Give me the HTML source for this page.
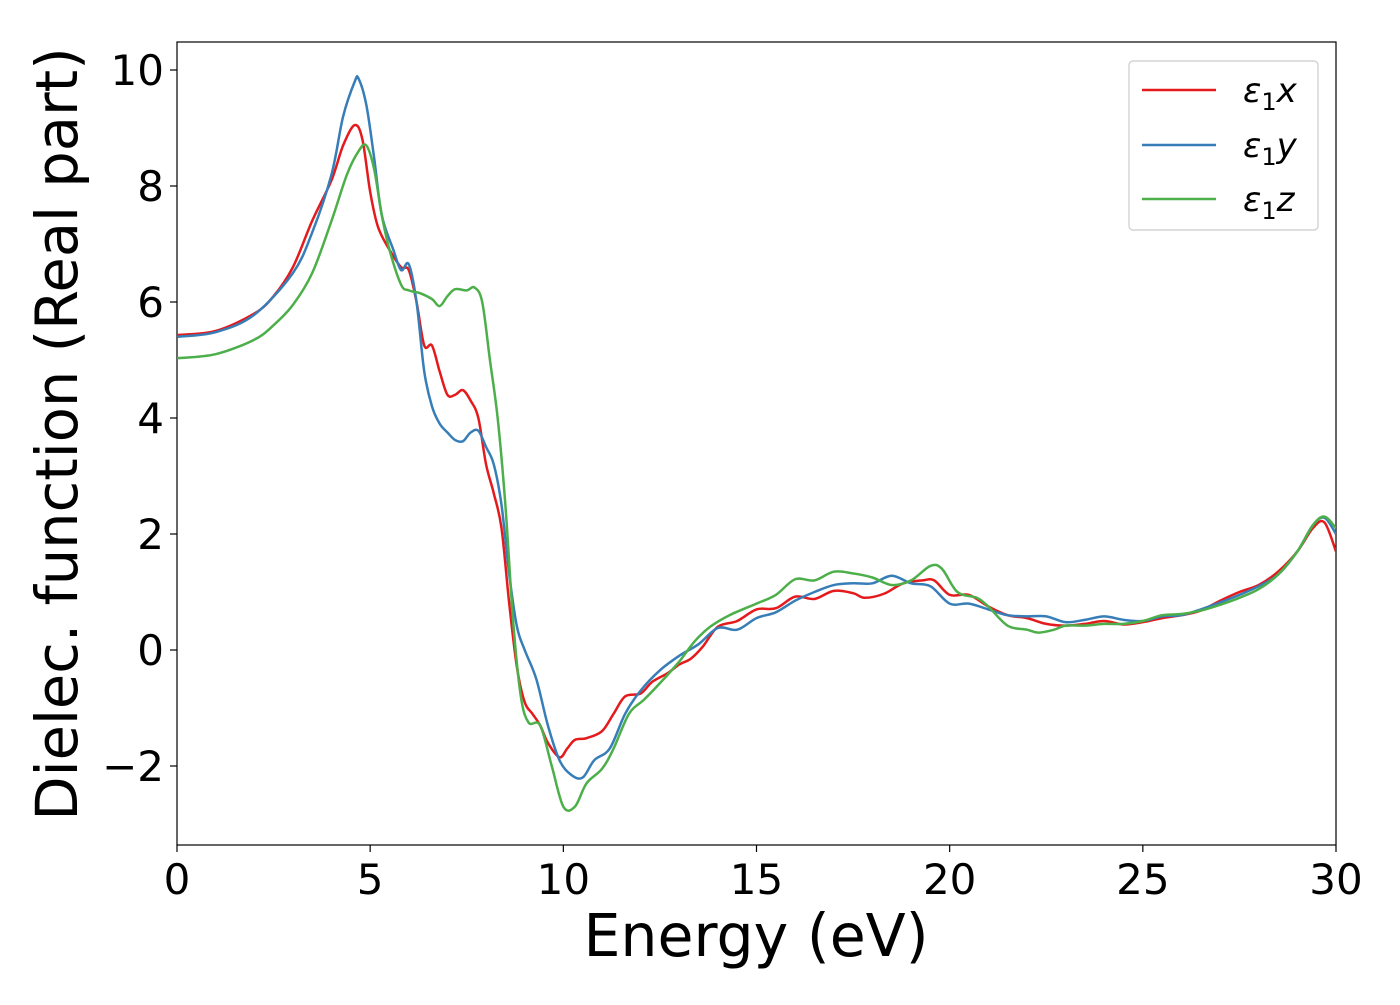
<!DOCTYPE html>
<html><head><meta charset="utf-8"><style>
html,body{margin:0;padding:0;background:#fff;}
svg text{font-family:"DejaVu Sans","Liberation Sans",sans-serif;fill:#000;}
</style></head><body>
<svg id="chart" width="1400" height="1000" xmlns="http://www.w3.org/2000/svg">
<rect x="177" y="42" width="1159" height="803" fill="none" stroke="#000" stroke-width="1.2"/>
<g id="ticks"></g>
<g id="series"></g>
<text x="756" y="956" font-size="58.5" text-anchor="middle">Energy (eV)</text>
<text transform="translate(77,434) rotate(-90)" font-size="57.5" text-anchor="middle">Dielec. function (Real part)</text>
<g>
<rect x="1129" y="61" width="189" height="169" rx="4" fill="#fff" stroke="#ccc" stroke-width="1.2"/>
<line x1="1142" y1="90" x2="1216" y2="90" stroke="#e41a1c" stroke-width="2.5"/>
<text x="1243" y="102" font-size="34" font-style="italic">ε<tspan font-style="normal" font-size="24" dy="8">1</tspan><tspan dy="-8">x</tspan></text>
<line x1="1142" y1="145" x2="1216" y2="145" stroke="#377eb8" stroke-width="2.5"/>
<text x="1243" y="157" font-size="34" font-style="italic">ε<tspan font-style="normal" font-size="24" dy="8">1</tspan><tspan dy="-8">y</tspan></text>
<line x1="1142" y1="199" x2="1216" y2="199" stroke="#4daf4a" stroke-width="2.5"/>
<text x="1243" y="211" font-size="34" font-style="italic">ε<tspan font-style="normal" font-size="24" dy="8">1</tspan><tspan dy="-8">z</tspan></text>
</g>
</svg>
<script>
const xTicks=[0,5,10,15,20,25,30];
const yTicks=[-2,0,2,4,6,8,10];
const yTickLabels=["\u22122","0","2","4","6","8","10"];
const exE=[0,1,2,2.5,3,3.5,4,4.3,4.6,4.8,5,5.2,5.5,5.8,6,6.2,6.4,6.6,6.8,7,7.2,7.4,7.6,7.8,8,8.2,8.4,8.6,8.8,9,9.2,9.4,9.6,9.9,10.1,10.3,10.6,11,11.3,11.6,12,12.3,12.7,13,13.3,13.6,14,14.5,15,15.5,16,16.5,17,17.5,17.8,18.3,18.8,19.3,19.6,20,20.5,21,21.5,22,22.5,23,23.5,24,24.5,25,25.5,26,26.5,27,27.5,28,28.5,29,29.4,29.7,30];
const exV=[5.43,5.5,5.8,6.1,6.6,7.4,8.1,8.7,9.05,8.8,7.9,7.3,6.9,6.6,6.55,6.0,5.25,5.25,4.8,4.4,4.4,4.48,4.3,4.0,3.2,2.7,2.1,0.8,-0.3,-0.9,-1.1,-1.3,-1.6,-1.85,-1.7,-1.55,-1.52,-1.4,-1.1,-0.8,-0.75,-0.55,-0.4,-0.25,-0.15,0.05,0.4,0.5,0.7,0.72,0.92,0.88,1.02,0.98,0.9,0.97,1.15,1.2,1.2,0.95,0.95,0.75,0.6,0.55,0.45,0.42,0.45,0.5,0.44,0.48,0.55,0.6,0.68,0.85,1.0,1.12,1.35,1.7,2.1,2.2,1.7];
const eyE=[0,1,2,3,3.5,4,4.3,4.6,4.7,4.9,5.1,5.3,5.6,5.8,6,6.2,6.4,6.6,6.8,7,7.2,7.4,7.6,7.8,8,8.2,8.4,8.6,8.8,9,9.3,9.6,9.9,10.2,10.5,10.8,11.2,11.6,12,12.5,13,13.5,14,14.5,15,15.5,16,16.5,17,17.5,18,18.5,19,19.5,20,20.5,21,21.5,22,22.5,23,23.5,24,24.5,25,25.5,26,26.5,27,27.5,28,28.5,29,29.4,29.7,30];
const eyV=[5.4,5.48,5.78,6.5,7.2,8.2,9.2,9.8,9.85,9.4,8.5,7.5,6.9,6.55,6.65,6.0,4.8,4.2,3.9,3.75,3.62,3.6,3.75,3.78,3.5,3.2,2.5,1.3,0.4,0.0,-0.5,-1.3,-1.9,-2.15,-2.2,-1.9,-1.7,-1.1,-0.7,-0.35,-0.1,0.1,0.38,0.35,0.55,0.65,0.85,1.0,1.12,1.15,1.15,1.28,1.15,1.1,0.8,0.8,0.7,0.6,0.58,0.58,0.48,0.52,0.58,0.52,0.5,0.58,0.6,0.7,0.82,0.95,1.1,1.3,1.7,2.15,2.28,2.0];
const ezE=[0,1,2,2.5,3,3.5,4,4.4,4.7,4.9,5.1,5.3,5.5,5.8,6,6.3,6.6,6.8,7,7.2,7.5,7.7,7.9,8.1,8.3,8.5,8.7,8.9,9.1,9.4,9.7,10,10.3,10.6,11,11.3,11.7,12.1,12.6,13,13.4,13.8,14.3,15,15.5,16,16.5,17,17.5,18,18.5,19,19.5,19.8,20.2,20.7,21,21.5,22,22.3,22.7,23,23.5,24,24.5,25,25.5,26,26.5,27,27.5,28,28.5,29,29.4,29.7,30];
const ezV=[5.03,5.1,5.35,5.6,5.95,6.5,7.4,8.2,8.6,8.7,8.3,7.5,6.9,6.3,6.2,6.15,6.05,5.93,6.1,6.22,6.2,6.25,6.0,5.0,4.0,2.5,0.5,-0.8,-1.25,-1.3,-2.0,-2.7,-2.7,-2.3,-2.05,-1.7,-1.1,-0.85,-0.5,-0.2,0.15,0.4,0.6,0.8,0.95,1.22,1.2,1.35,1.32,1.25,1.12,1.2,1.45,1.4,1.0,0.9,0.75,0.42,0.35,0.3,0.35,0.42,0.42,0.45,0.45,0.5,0.6,0.62,0.68,0.78,0.9,1.05,1.3,1.7,2.15,2.3,2.1];
const NS="http://www.w3.org/2000/svg";
const X0=177,X1=1336,Y0=650,YU=58;
function sx(v){return X0+(X1-X0)*v/30;}
function sy(v){return Y0-v*YU;}
const tg=document.getElementById('ticks');
function mk(tag,attrs,parent){const e=document.createElementNS(NS,tag);for(const k in attrs)e.setAttribute(k,attrs[k]);parent.appendChild(e);return e;}
xTicks.forEach(t=>{
  const l=mk('line',{x1:sx(t),x2:sx(t),y1:845,y2:852,stroke:'#000','stroke-width':1.2},tg);
  
  
  const tx=mk('text',{x:sx(t),y:894,'font-size':42,'text-anchor':'middle'},tg);
  tx.textContent=t;
  
  
});
yTicks.forEach((t,i)=>{
  const l=mk('line',{x1:170,x2:177,y1:sy(t),y2:sy(t),stroke:'#000','stroke-width':1.2},tg);
  
  
  const tx=mk('text',{x:164,y:sy(t)+15,'font-size':42,'text-anchor':'end'},tg);
  tx.textContent=yTickLabels[i];
  
  
});
function pathD(E,V){
  const p=E.map((e,i)=>[sx(e),sy(V[i])]);
  let d='M'+p[0][0]+','+p[0][1];
  for(let i=0;i<p.length-1;i++){
    const a=p[Math.max(0,i-1)],b=p[i],c=p[i+1],n=p[Math.min(p.length-1,i+2)];
    const c1=[b[0]+(c[0]-a[0])/6,b[1]+(c[1]-a[1])/6];
    const c2=[c[0]-(n[0]-b[0])/6,c[1]-(n[1]-b[1])/6];
    d+=' C'+c1[0]+','+c1[1]+' '+c2[0]+','+c2[1]+' '+c[0]+','+c[1];
  }
  return d;
}
const sg=document.getElementById('series');
const cp=mk('clipPath',{id:'clip'},document.getElementById('chart'));
mk('rect',{x:177,y:42,width:1159,height:803},cp);
const p1=mk('path',{d:pathD(exE,exV),fill:'none',stroke:'#e41a1c','stroke-width':2.5,'clip-path':'url(#clip)'},sg);


const p2=mk('path',{d:pathD(eyE,eyV),fill:'none',stroke:'#377eb8','stroke-width':2.5,'clip-path':'url(#clip)'},sg);


const p3=mk('path',{d:pathD(ezE,ezV),fill:'none',stroke:'#4daf4a','stroke-width':2.5,'clip-path':'url(#clip)'},sg);


</script>
</body></html>
